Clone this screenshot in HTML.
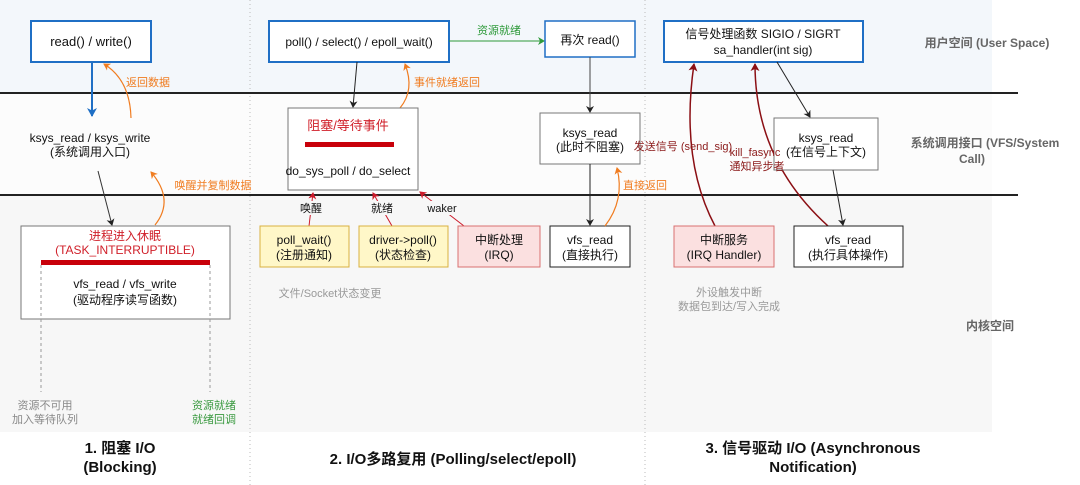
<!DOCTYPE html>
<html><head><meta charset="utf-8"><style>
html,body{margin:0;padding:0;background:#fff;}
svg{display:block;font-family:"Liberation Sans","Noto Sans CJK SC",sans-serif;}
</style></head><body>
<svg width="1080" height="485" viewBox="0 0 1080 485" xmlns="http://www.w3.org/2000/svg">
<defs>
<marker id="ab" markerWidth="8" markerHeight="8" refX="6" refY="4" orient="auto" markerUnits="userSpaceOnUse"><path d="M0,0 L7,4 L0,8 L2,4z" fill="#222"/></marker>
<marker id="abl" markerWidth="10" markerHeight="10" refX="8" refY="5" orient="auto" markerUnits="userSpaceOnUse"><path d="M0,0 L9,5 L0,10 L2.5,5z" fill="#1f6fc5"/></marker>
<marker id="ao" markerWidth="8" markerHeight="8" refX="6" refY="4" orient="auto" markerUnits="userSpaceOnUse"><path d="M0,0 L7,4 L0,8 L2,4z" fill="#f07c20"/></marker>
<marker id="ag" markerWidth="8" markerHeight="8" refX="6" refY="4" orient="auto" markerUnits="userSpaceOnUse"><path d="M0,0 L7,4 L0,8 L2,4z" fill="#2e9a3a"/></marker>
<marker id="ar" markerWidth="8" markerHeight="8" refX="6" refY="4" orient="auto" markerUnits="userSpaceOnUse"><path d="M0,0 L7,4 L0,8 L2,4z" fill="#cc1a2a"/></marker>
<marker id="ad" markerWidth="9" markerHeight="9" refX="7" refY="4.5" orient="auto" markerUnits="userSpaceOnUse"><path d="M0,0 L8,4.5 L0,9 L2,4.5z" fill="#8b0f14"/></marker>
</defs>
<rect x="0" y="0" width="992" height="93" fill="#f3f7fb"/>
<rect x="0" y="93" width="992" height="102" fill="#fcfcfc"/>
<rect x="0" y="195" width="992" height="237" fill="#f7f7f7"/>
<line x1="250" y1="0" x2="250" y2="485" stroke="#bbb" stroke-dasharray="1,3"/>
<line x1="645" y1="0" x2="645" y2="485" stroke="#bbb" stroke-dasharray="1,3"/>
<line x1="0" y1="93" x2="1018" y2="93" stroke="#222" stroke-width="2"/>
<line x1="0" y1="195" x2="1018" y2="195" stroke="#222" stroke-width="2"/>

<g font-size="12" fill="#111" text-anchor="middle">
<rect x="31" y="21" width="120" height="41" fill="#fff" stroke="#1f6fc5" stroke-width="2"/>
<text x="91" y="46" font-size="13">read() / write()</text>
<line x1="92" y1="62" x2="92" y2="116" stroke="#1f6fc5" stroke-width="2" marker-end="url(#abl)"/>
<path d="M131,118 Q130,80 104,64" fill="none" stroke="#f07c20" stroke-width="1.2" marker-end="url(#ao)"/>
<text x="148" y="86" font-size="11" fill="#f07c20">返回数据</text>
<text x="90" y="142">ksys_read / ksys_write</text>
<text x="90" y="156">(系统调用入口)</text>
<line x1="98" y1="171" x2="112" y2="225" stroke="#333" marker-end="url(#ab)"/>
<path d="M155,225 Q175,200 151,172" fill="none" stroke="#f07c20" stroke-width="1.2" marker-end="url(#ao)"/>
<text x="213" y="189" font-size="11" fill="#f07c20">唤醒并复制数据</text>
<rect x="21" y="226" width="209" height="93" fill="#fff" stroke="#777"/>
<text x="125" y="240" fill="#d0202a">进程进入休眠</text>
<text x="125" y="254" fill="#d0202a">(TASK_INTERRUPTIBLE)</text>
<rect x="41" y="260" width="169" height="5" fill="#c8000a"/>
<text x="125" y="288">vfs_read / vfs_write</text>
<text x="125" y="304">(驱动程序读写函数)</text>
<line x1="41" y1="265" x2="41" y2="392" stroke="#999" stroke-dasharray="3,3"/>
<line x1="210" y1="265" x2="210" y2="392" stroke="#999" stroke-dasharray="3,3"/>
<text x="45" y="409" font-size="11" fill="#888">资源不可用</text>
<text x="45" y="423" font-size="11" fill="#888">加入等待队列</text>
<text x="214" y="409" font-size="11" fill="#3a9a40">资源就绪</text>
<text x="214" y="423" font-size="11" fill="#3a9a40">就绪回调</text>
<text x="120" y="453" font-size="15" font-weight="bold">1. 阻塞 I/O</text>
<text x="120" y="472" font-size="15" font-weight="bold">(Blocking)</text>

<rect x="269" y="21" width="180" height="41" fill="#fff" stroke="#1f6fc5" stroke-width="2"/>
<text x="359" y="46">poll() / select() / epoll_wait()</text>
<line x1="449" y1="41" x2="544" y2="41" stroke="#2e9a3a" marker-end="url(#ag)"/>
<text x="499" y="34" font-size="11" fill="#2e9a3a">资源就绪</text>
<rect x="545" y="21" width="90" height="36" fill="#fff" stroke="#1f6fc5" stroke-width="1.5"/>
<text x="590" y="44">再次 read()</text>
<line x1="357" y1="62" x2="353" y2="107" stroke="#222" marker-end="url(#ab)"/>
<path d="M400,108 Q415,90 405,64" fill="none" stroke="#f07c20" stroke-width="1.2" marker-end="url(#ao)"/>
<text x="447" y="86" font-size="11" fill="#f07c20">事件就绪返回</text>
<rect x="288" y="108" width="130" height="82" fill="#fff" stroke="#777"/>
<text x="348" y="130" font-size="13" fill="#d0202a">阻塞/等待事件</text>
<rect x="305" y="142" width="89" height="5" fill="#c8000a"/>
<text x="348" y="175">do_sys_poll / do_select</text>
<line x1="309" y1="226" x2="313" y2="193" stroke="#cc1a2a" marker-end="url(#ar)"/>
<line x1="392" y1="226" x2="373" y2="193" stroke="#cc1a2a" marker-end="url(#ar)"/>
<line x1="464" y1="226" x2="420" y2="192" stroke="#cc1a2a" marker-end="url(#ar)"/>
<rect x="302" y="201" width="20" height="14" fill="#f7f7f7"/>
<rect x="372" y="201" width="20" height="14" fill="#f7f7f7"/>
<rect x="426" y="201" width="32" height="14" fill="#f7f7f7"/>
<text x="311" y="212" font-size="11">唤醒</text>
<text x="382" y="212" font-size="11">就绪</text>
<text x="442" y="212" font-size="11">waker</text>
<rect x="260" y="226" width="89" height="41" fill="#fff7c8" stroke="#d8b040"/>
<text x="304" y="244">poll_wait()</text>
<text x="304" y="259">(注册通知)</text>
<rect x="359" y="226" width="89" height="41" fill="#fff7c8" stroke="#d8b040"/>
<text x="403" y="244">driver-&gt;poll()</text>
<text x="403" y="259">(状态检查)</text>
<rect x="458" y="226" width="82" height="41" fill="#fbe0e0" stroke="#d87070"/>
<text x="499" y="244">中断处理</text>
<text x="499" y="259">(IRQ)</text>
<text x="330" y="297" font-size="11" fill="#999">文件/Socket状态变更</text>
<text x="453" y="464" font-size="15" font-weight="bold">2. I/O多路复用 (Polling/select/epoll)</text>

<line x1="590" y1="57" x2="590" y2="112" stroke="#444" marker-end="url(#ab)"/>
<rect x="540" y="113" width="100" height="51" fill="#fff" stroke="#777"/>
<text x="590" y="137">ksys_read</text>
<text x="590" y="151">(此时不阻塞)</text>
<line x1="590" y1="164" x2="590" y2="225" stroke="#222" marker-end="url(#ab)"/>
<rect x="550" y="226" width="80" height="41" fill="#fff" stroke="#222"/>
<text x="590" y="244">vfs_read</text>
<text x="590" y="259">(直接执行)</text>
<path d="M605,226 Q625,200 617,168" fill="none" stroke="#f07c20" stroke-width="1.2" marker-end="url(#ao)"/>
<text x="645" y="189" font-size="11" fill="#f07c20">直接返回</text>

<rect x="664" y="21" width="199" height="41" fill="#fff" stroke="#1f6fc5" stroke-width="2"/>
<text x="763" y="38">信号处理函数 SIGIO / SIGRT</text>
<text x="763" y="54">sa_handler(int sig)</text>
<path d="M715,226 Q680,160 694,64" fill="none" stroke="#8b0f14" stroke-width="1.5" marker-end="url(#ad)"/>
<path d="M828,226 Q755,160 755,64" fill="none" stroke="#8b0f14" stroke-width="1.5" marker-end="url(#ad)"/>
<line x1="777" y1="62" x2="810" y2="117" stroke="#222" marker-end="url(#ab)"/>
<rect x="774" y="118" width="104" height="52" fill="#fff" stroke="#777"/>
<text x="826" y="142">ksys_read</text>
<text x="826" y="156">(在信号上下文)</text>
<text x="683" y="150" font-size="11" fill="#8b1a1a">发送信号 (send_sig)</text>
<text x="755" y="156" font-size="11" fill="#8b1a1a">kill_fasync</text>
<text x="757" y="170" font-size="11" fill="#8b1a1a">通知异步者</text>
<line x1="833" y1="170" x2="843" y2="225" stroke="#222" marker-end="url(#ab)"/>
<rect x="674" y="226" width="100" height="41" fill="#fbe0e0" stroke="#d87070"/>
<text x="724" y="244">中断服务</text>
<text x="724" y="259">(IRQ Handler)</text>
<rect x="794" y="226" width="109" height="41" fill="#fff" stroke="#222"/>
<text x="848" y="244">vfs_read</text>
<text x="848" y="259">(执行具体操作)</text>
<text x="729" y="296" font-size="11" fill="#999">外设触发中断</text>
<text x="729" y="310" font-size="11" fill="#999">数据包到达/写入完成</text>
<text x="813" y="453" font-size="15" font-weight="bold">3. 信号驱动 I/O (Asynchronous</text>
<text x="813" y="472" font-size="15" font-weight="bold">Notification)</text>

<text x="987" y="47" font-size="12" font-weight="bold" fill="#666">用户空间 (User Space)</text>
<text x="985" y="147" font-size="12" font-weight="bold" fill="#666">系统调用接口 (VFS/System</text>
<text x="972" y="163" font-size="12" font-weight="bold" fill="#666">Call)</text>
<text x="990" y="330" font-size="12" font-weight="bold" fill="#666">内核空间</text>
</g>
</svg>
</body></html>
